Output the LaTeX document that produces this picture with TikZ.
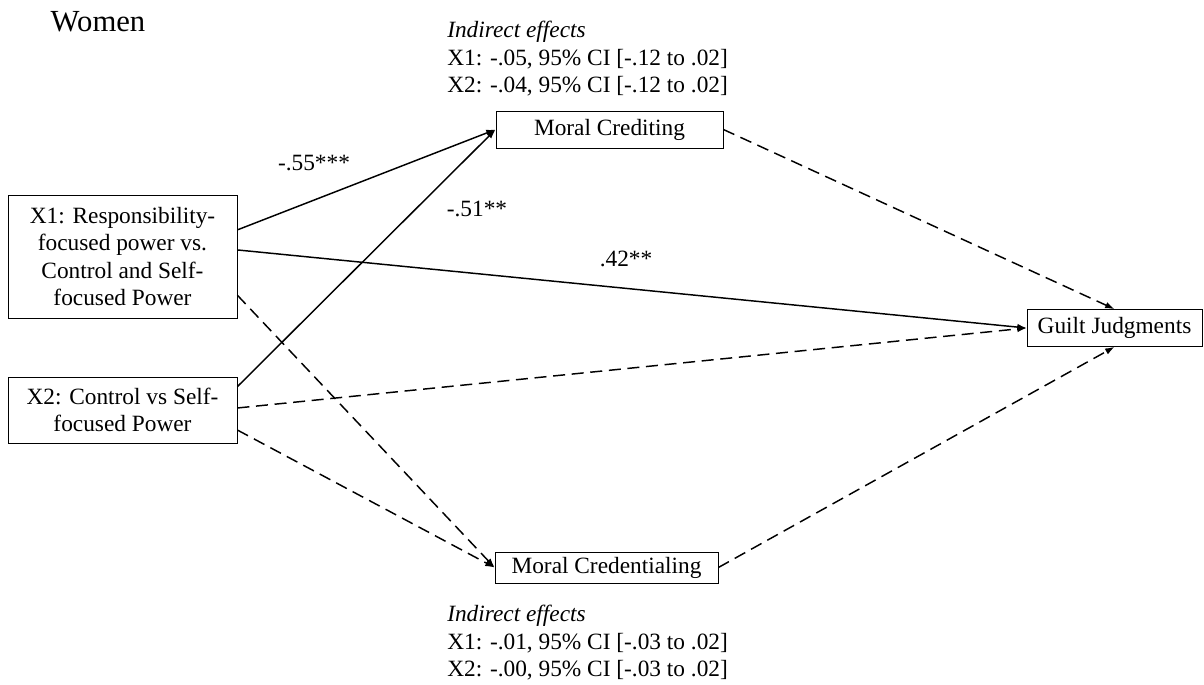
\documentclass[tikz,border=0pt]{standalone}
\usepackage{fontspec}
\setmainfont{Liberation Serif}
\usetikzlibrary{arrows.meta,calc}

\begin{document}
\begin{tikzpicture}[x=0.75pt, y=-0.75pt,
    font=\fontsize{17.5}{20.6}\selectfont,
    box/.style = {draw, line width=0.6pt, inner sep=0pt, align=center},
    path/.style = {line width=1.1pt, -{Latex[length=7pt,width=5pt]}},
    nopath/.style = {path, dash pattern=on 9pt off 5pt}]
                \useasboundingbox (0,0) rectangle (1204,685);

                \node (women) at (98,22) {\fontsize{23}{27}\selectfont Women};

                \node[box, minimum width=229*0.75pt, minimum height=123*0.75pt] (x1) at (122.5,256.5) {X1: Responsibility-\\focused power vs.\\Control and Self-\\focused Power};
                \node[box, minimum width=229*0.75pt, minimum height=66*0.75pt] (x2) at (122.5,410) {X2: Control vs Self-\\focused Power};
                \node[box, minimum width=227*0.75pt, minimum height=37*0.75pt] (cred) at (609.5,129.5) {Moral Crediting};
                \node[box, minimum width=223*0.75pt, minimum height=31*0.75pt] (cdtl) at (606.5,567.5) {Moral Credentialing};
                \node[box, minimum width=175*0.75pt, minimum height=37*0.75pt] (guilt) at (1114.5,328) {Guilt Judgments};

                \node[anchor=north west, inner sep=0pt, align=left] (ind1) at (447,21) {\textit{Indirect effects}\\X1: -.05, 95\% CI [-.12 to .02]\\X2: -.04, 95\% CI [-.12 to .02]};
                \node[anchor=north west, inner sep=0pt, align=left] (ind2) at (447,605) {\textit{Indirect effects}\\X1: -.01, 95\% CI [-.03 to .02]\\X2: -.00, 95\% CI [-.03 to .02]};

                % significant paths
                \draw[path] ($(x1.north east)!0.285!(x1.south east)$) -- (cred.west);
                \draw[path] ($(x2.north east)!0.15!(x2.south east)$) -- (cred.west);
                \draw[path] ($(x1.north east)!0.447!(x1.south east)$) -- (guilt.west);

                % non-significant paths
                \draw[nopath] ($(x1.north east)!0.813!(x1.south east)$) -- (cdtl.west);
                \draw[nopath] ($(x2.north east)!0.47!(x2.south east)$) -- (guilt.west);
                \draw[nopath] ($(x2.north east)!0.8!(x2.south east)$) -- (cdtl.west);
                \draw[nopath] (cred.east) -- (guilt.north);
                \draw[nopath] (cdtl.east) -- (guilt.south);

                \node (b1) at (314,163) {-.55***};
                \node (b2) at (477,209) {-.51**};
                \node (b3) at (626,259) {.42**};

            \end{tikzpicture}
\end{document}
